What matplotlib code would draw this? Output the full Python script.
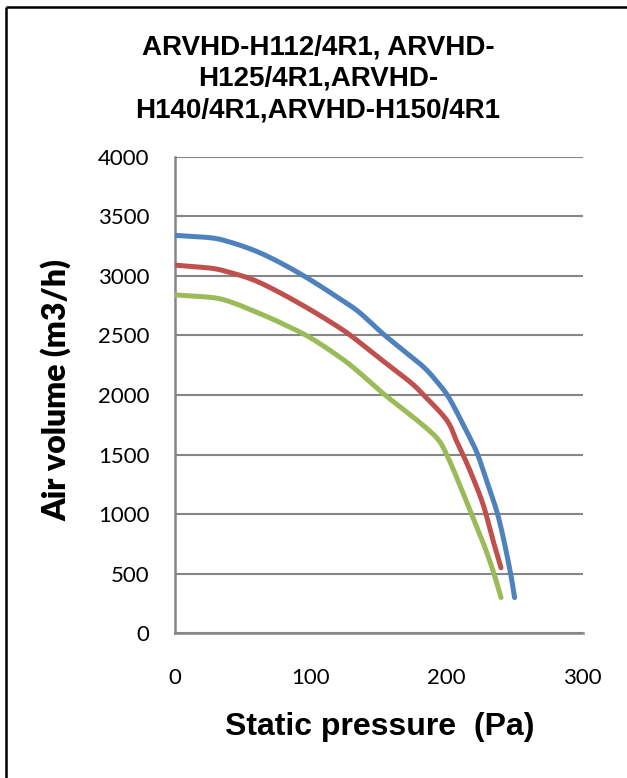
import numpy as np
import matplotlib
matplotlib.use("Agg")
import matplotlib.pyplot as plt
from matplotlib.lines import Line2D

# Fan curves: static pressure (Pa) vs. air volume (m3/h)
p_h150 = [0, 26, 40, 58, 75, 97, 119, 135, 153, 168, 183, 193, 201, 210, 218, 223, 230, 237, 242, 247, 250]
q_h150 = [3340, 3320, 3285, 3215, 3125, 2985, 2825, 2700, 2515, 2375, 2235, 2110, 1990, 1800, 1620, 1495, 1260, 1020, 785, 505, 300]

p_h140 = [0, 26, 40, 58, 77, 99, 119, 131, 151, 173, 183, 200, 207, 212, 219, 227, 234, 240]
q_h140 = [3090, 3065, 3030, 2965, 2860, 2720, 2580, 2485, 2305, 2110, 2000, 1790, 1620, 1500, 1315, 1075, 785, 550]

p_h125 = [0, 26, 40, 60, 77, 99, 121, 134, 153, 178, 193, 200, 208, 218, 227, 234, 240]
q_h125 = [2840, 2820, 2785, 2695, 2610, 2485, 2320, 2205, 2015, 1790, 1636, 1500, 1290, 1010, 755, 530, 300]

series = [
    (p_h150, q_h150, "#4F81BD"),
    (p_h140, q_h140, "#C0504D"),
    (p_h125, q_h125, "#9BBB59"),
]

x_ticks = [0, 100, 200, 300]
y_ticks = [0, 500, 1000, 1500, 2000, 2500, 3000, 3500, 4000]

title = "ARVHD-H112/4R1, ARVHD-\nH125/4R1,ARVHD-\nH140/4R1,ARVHD-H150/4R1"
x_label = "Static pressure  (Pa)"
y_label = "Air volume (m3/h)"


def smooth(x, y, n=12):
    """Catmull-Rom spline through the points, like a smoothed line chart."""
    x = np.asarray(x, float)
    y = np.asarray(y, float)
    pts = np.column_stack([x, y])
    pts = np.vstack([pts[0], pts, pts[-1]])
    out = []
    t = np.linspace(0, 1, n, endpoint=False)[:, None]
    for i in range(1, len(pts) - 2):
        p0, p1, p2, p3 = pts[i - 1], pts[i], pts[i + 1], pts[i + 2]
        seg = 0.5 * ((2 * p1) + (-p0 + p2) * t + (2 * p0 - 5 * p1 + 4 * p2 - p3) * t ** 2
                     + (-p0 + 3 * p1 - 3 * p2 + p3) * t ** 3)
        out.append(seg)
    out.append(pts[-2][None, :])
    out = np.vstack(out)
    return out[:, 0], out[:, 1]


W, H = 627, 778
fig = plt.figure(figsize=(W / 100, H / 100), dpi=100)
fig.patch.set_facecolor("white")

left, right, top, bottom = 175, 582.5, 156.7, 633.3
ax = fig.add_axes([left / W, 1 - bottom / H, (right - left) / W, (bottom - top) / H])

grid_color = "#868686"
for p, q, c in series:
    xs, ys = smooth(p, q)
    ax.plot(xs, ys, color=c, lw=3.6, solid_capstyle="round", solid_joinstyle="round", zorder=3)

ax.set_xlim(0, 300)
ax.set_ylim(0, 4000)
ax.set_xticks(x_ticks)
ax.set_yticks(y_ticks)
ax.yaxis.grid(True, color=grid_color, lw=1.5)
ax.set_axisbelow(True)
for s in ["top", "right"]:
    ax.spines[s].set_visible(False)
for s in ["left", "bottom"]:
    ax.spines[s].set_color(grid_color)
    ax.spines[s].set_linewidth(1.8)

ax.tick_params(axis="both", length=0, colors="black")
ax.tick_params(axis="x", pad=25)
ax.tick_params(axis="y", pad=18.5)
for lab in ax.get_xticklabels() + ax.get_yticklabels():
    lab.set_fontfamily("Lato")
    lab.set_fontsize(16)

fig.text(56 / W, 1 - 390 / H, y_label, rotation=90, ha="center", va="center",
         fontfamily="Lato", fontweight="heavy", fontsize=23)
fig.text(380 / W, 1 - 727 / H, x_label, ha="center", va="center",
         fontfamily="Liberation Sans", fontweight="bold", fontsize=23)
fig.text(318 / W, 1 - 79 / H, title, ha="center", va="center", multialignment="center",
         fontfamily="Liberation Sans", fontweight="bold", fontsize=20, linespacing=1.28)

# chart frame (left and top edges)
fig.add_artist(Line2D([5.5 / W, 5.5 / W], [0, 1 - 7 / H], color="black", lw=1.8,
                      transform=fig.transFigure, solid_capstyle="butt"))
fig.add_artist(Line2D([5.5 / W, 1], [1 - 7 / H, 1 - 7 / H], color="black", lw=1.8,
                      transform=fig.transFigure, solid_capstyle="butt"))

fig.savefig("out.png", dpi=100)
